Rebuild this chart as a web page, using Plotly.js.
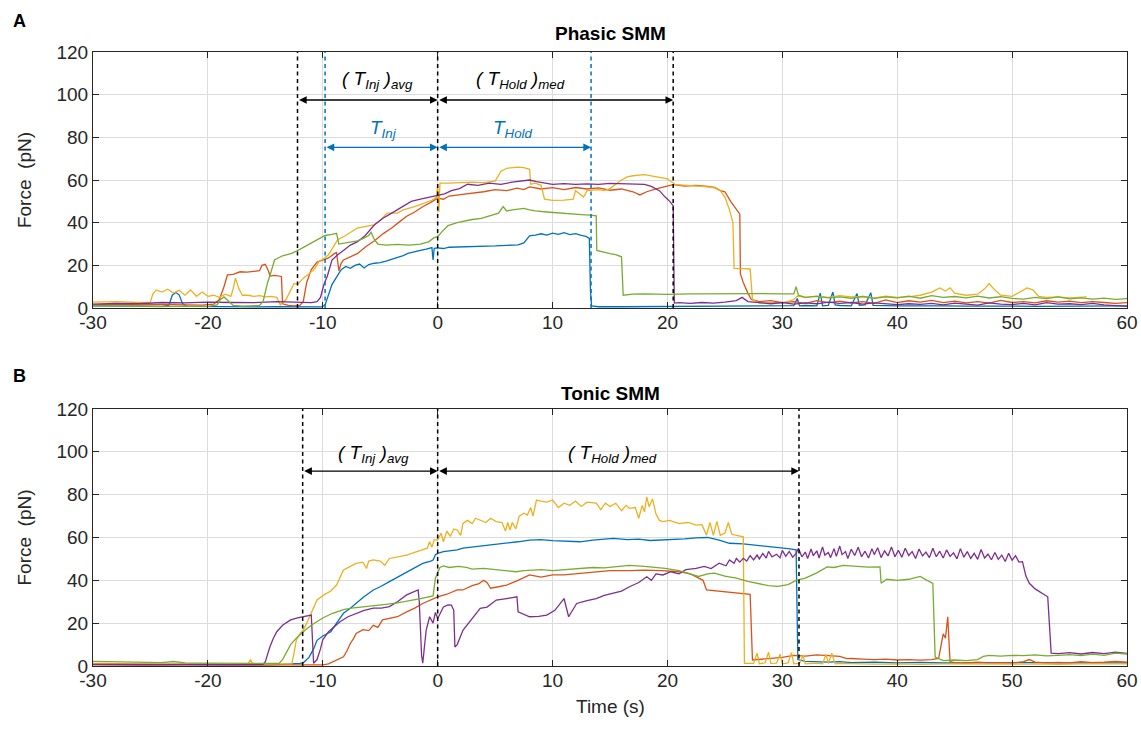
<!DOCTYPE html>
<html>
<head>
<meta charset="utf-8">
<script src="https://cdn.plot.ly/plotly-3.0.1.min.js"></script>
<style>html,body{margin:0;padding:0;background:#fff;}#chart{width:1141px;height:731px;}</style>
</head>
<body>
<div id="chart"></div>
<script>
// ---------- DATA (time s, force pN) ----------
const xTicks = [-30,-20,-10,0,10,20,30,40,50,60];
const yTicks = [0,20,40,60,80,100,120];
const seriesColors = ['#0072BD','#D95319','#EDB120','#7E2F8E','#77AC30'];

// Panel A – Phasic SMM
const phasicBlue = [[-30,1.0],[-28,0.8],[-26,0.9],[-24,0.8],[-23.4,1.2],[-23.1,6.0],[-22.8,7.3],[-22.5,6.2],[-22.2,2.0],[-21.8,0.8],[-20,0.6],[-18,0.5],[-16,0.5],[-14,0.6],[-12,0.5],[-10.1,0.5],[-9.8,1.5],[-9.5,6],[-9.2,11],[-8.8,14.5],[-8.4,18],[-8,19.5],[-7.6,18.6],[-7.2,20],[-6.8,20.6],[-6.4,18.8],[-6,20.4],[-5.5,21],[-5,21.3],[-4.5,22],[-4.1,22.6],[-3.6,23.6],[-3,24.6],[-2.6,25.6],[-2,26.5],[-1.5,27],[-1,27.6],[-0.5,28.3],[-0.4,22.5],[-0.3,28],[0,28.2],[0.5,27.9],[1,28.5],[2,28.6],[3,28.8],[4,29],[5,29.1],[6,29.4],[7,29.6],[7.5,30.5],[8,33.8],[8.5,34.2],[9,34.8],[9.5,34.2],[10,35.1],[10.5,34.5],[11,35.3],[11.5,34.4],[12,34.9],[12.5,34],[12.9,33.6],[13.2,32.6],[13.3,8],[13.4,1],[14,0.6],[16,0.6],[18,0.7],[20,0.6],[22,0.7],[24,0.8],[26,0.8],[28,0.9],[30,1],[31,1.1],[31.3,4.5],[31.5,1],[32,1.2],[33,1],[33.3,7],[33.5,1],[34,1.2],[34.4,7.5],[34.6,1.5],[35,1.2],[36,1],[36.5,6.8],[36.7,1.3],[37.2,1.5],[37.7,7.2],[37.9,1.2],[40,1],[42,1.1],[44,1],[46,0.9],[48,1],[50,0.9],[52,0.8],[54,0.9],[56,1],[58,0.9],[60,1]];
const phasicOrange = [[-30,1.5],[-28,1.8],[-26,1.5],[-24,1.7],[-22,1.5],[-20.5,1.4],[-19.5,1.8],[-19,4],[-18.6,10],[-18.3,15.5],[-17.8,15.8],[-17.2,17],[-16.6,16.8],[-16,17.2],[-15.5,17.5],[-15.3,20],[-15,20.5],[-14.7,17],[-14.6,15],[-14.2,15.3],[-13.8,15],[-13.6,14.8],[-13.5,2],[-13,1.2],[-12.5,1],[-12,1.2],[-11.7,3],[-11.4,12],[-11,18],[-10.5,21.5],[-10,22.5],[-9.5,23.5],[-9,25.5],[-8.8,26],[-8.6,17.5],[-8.4,21],[-8.2,22.5],[-7.6,24],[-7,25.5],[-6.2,29],[-5.5,31.5],[-4.7,35],[-4,37.5],[-3.3,40.5],[-2.7,43],[-2,45],[-1.3,47.5],[-0.6,49.5],[0,51.5],[0.5,51],[1,52.5],[2,53.2],[3,53.8],[4,54.5],[5,55.5],[6,55],[6.9,56.2],[7.5,55.5],[8,56.8],[9,55.8],[10,56.4],[11,55.5],[12,56.5],[13,55.8],[14,56.3],[15,55.2],[16,55.8],[17,54.5],[17.6,53],[18.2,54.5],[19,55.8],[20,57],[20.5,57.8],[21.5,57.2],[22.5,57.5],[23.5,57],[24.1,56.5],[24.6,55],[25,54.5],[25.5,50],[25.9,47],[26.3,44],[26.35,16],[26.6,12],[27,7],[27.3,4],[28,3],[29,3.5],[30,2.5],[31,3],[32,2.2],[33,3.5],[34,2.5],[35,3.2],[36,2.4],[37,3],[38,2.2],[39,3.8],[40,2.5],[41,3.4],[42,2.8],[43,3.6],[44,2.5],[45,3.2],[46,2.4],[47,3],[48,2.3],[49,3.6],[50,2.6],[51,3],[52,2.4],[53,3.4],[54,2.8],[55,3.2],[56,2.5],[57,3],[58,2.6],[59,2.2],[60,2.5]];
const phasicYellow = [[-30,2.8],[-28,3],[-26,2.6],[-25,2.8],[-24.8,6.5],[-24.5,8.5],[-24,7.5],[-23.5,8.8],[-23,7],[-22.5,8.3],[-22,6],[-21.5,8.5],[-21,5.5],[-20.5,7.5],[-20,5.5],[-19.5,6],[-19,5],[-18.5,6.5],[-18,5.5],[-17.8,9],[-17.6,14],[-17.3,9],[-17,6],[-16.5,6],[-16,5.5],[-15.5,5.8],[-15,5.2],[-14.5,5.5],[-14,5],[-13.7,1.5],[-13.2,4],[-12.8,8],[-12.5,11.5],[-12.2,11],[-11.7,14],[-11.2,16],[-10.7,18.5],[-10.3,22],[-10,22.8],[-9.5,25],[-9,29],[-8.7,32],[-8,34],[-7,37.5],[-6,38.5],[-5.5,39],[-5,41],[-4.4,44.5],[-3.5,44.5],[-3,46],[-2,47.5],[-1.3,49],[-0.5,50.5],[-0.1,52],[0,58],[0.1,45],[0.2,58.5],[1,58.5],[2,58.8],[3,59],[4,58.8],[5,59.5],[5.5,64],[6,65.5],[7,66],[7.5,65.8],[8,65],[8.1,58],[8.5,58.5],[9,57.5],[9.3,51],[10,50.5],[11,50.6],[11.8,51],[12,55],[12.7,52],[13,55],[14,55.5],[14.5,55],[15,56],[15.5,58],[16,60],[16.5,61.5],[17,62],[18,62.5],[19,61.5],[20,60.5],[20.7,57.8],[22,57.5],[23,57],[24,56.5],[24.6,55],[25,52],[25.4,46],[25.7,40],[25.8,18.6],[26.5,18.5],[27.2,18.3],[27.4,4],[28,2.3],[29,2.5],[30,2.3],[31,4],[31.3,5.6],[32,5],[33,5.6],[34,5],[35,5.8],[36,5.2],[37,5.5],[38,4.8],[39,5.6],[40,5],[41,5.2],[42,6],[43,7.5],[43.7,9.4],[44.2,8],[44.6,9.5],[45,7],[46,6],[47,6.5],[47.6,9],[48,11.5],[48.4,9],[49,6],[50,5.5],[50.8,8],[51.3,9.4],[51.8,8.5],[52.3,5.5],[53,5],[54,5.2],[55,4.8],[56,5],[56.5,5.2]];
const phasicPurple = [[-30,1.8],[-28,2.2],[-26,2.0],[-25,2.3],[-24,2.6],[-22,2.4],[-20,2.8],[-18,2.6],[-16,2.5],[-14,3],[-13,2.8],[-12,2.6],[-11,2.5],[-10.5,3],[-10.2,5],[-9.9,11],[-9.6,15],[-9.2,22.5],[-8.7,25],[-8.2,27],[-7.6,29.5],[-7,31],[-6.3,34],[-5.5,39],[-4.8,42],[-4,44.5],[-3.2,47],[-2.3,50],[-1.5,51],[-0.7,52],[0,53],[0.6,53.5],[1.2,55],[1.9,56],[2.6,58],[3.5,57.5],[4.5,58.5],[5.5,58],[6.5,59],[7.2,59.5],[8,60],[8.6,59.2],[9.3,58.5],[10,58],[11,58.3],[12,58],[13,58.2],[14,58],[15,58.4],[16,58.2],[17,58],[18,58],[18.6,57],[19.3,55],[19.8,52],[20.2,50],[20.5,48],[20.6,2.3],[21,2.5],[22,2.2],[23,2.6],[24,2.3],[25,2.8],[26,3.5],[26.5,5],[27,3],[28,2.5],[29,2],[30,2.6],[31,1.8],[32,2.4],[33,2],[34,2.8],[35,2.2],[36,2.6],[37,1.8],[38,2.4],[39,2.1],[40,1.6],[41,2],[42,1.7],[43,2.2],[44,1.5],[45,2.3],[46,1.8],[47,1.4],[48,2.4],[49,1.8],[50,1.6],[51,2.2],[52,1.5],[53,2.5],[54,1.8],[55,2],[56,1.6],[57,2.2],[58,1.5],[59,1],[60,0.8]];
const phasicGreen = [[-30,1],[-28,0.8],[-26,0.9],[-24,0.7],[-22,0.9],[-20,0.8],[-19.2,1.5],[-18.9,4],[-18.6,5.2],[-18.2,3],[-17.8,1.2],[-17,0.9],[-16,1],[-15.5,1.2],[-15.2,3],[-14.8,12],[-14.5,17],[-14.2,22.5],[-13.5,24.5],[-12.7,25.6],[-12,27.5],[-11.3,29.5],[-10.5,32],[-9.8,34],[-9.2,34.5],[-8.8,35],[-8.6,30],[-8.1,30.5],[-7.6,31],[-7,31.5],[-6.5,32.5],[-6,34],[-5.8,35.5],[-5.5,32],[-5.2,30],[-4.5,29.5],[-3.5,29.8],[-2.5,29.5],[-1.5,30],[-0.8,31],[-0.3,33],[0,33.5],[0.5,36.5],[0.9,38.6],[1.7,40],[2.4,41],[3,41.5],[3.8,42],[4.5,43],[5.3,44.5],[5.7,47.5],[6,45.5],[6.5,46],[7,46.3],[7.5,46.7],[8,46],[8.5,45.5],[9.5,45],[10.5,44.5],[11.5,44.2],[12.5,43.8],[13.3,43.5],[13.8,43.2],[13.85,27],[14.5,26],[15,25.5],[15.5,25],[16,24],[16.15,6],[17,6.5],[18,6.6],[20,6.4],[22,6.6],[24,6.7],[26,6.6],[28,6.8],[30,6.6],[31,6.7],[31.2,10],[31.4,6],[32,5],[33,5.5],[34,4.8],[35,5.2],[36,4.6],[37,5.4],[38,4.5],[39,5.2],[40,4.8],[41,5.6],[42,4.6],[43,5.8],[44,5],[45,5.4],[46,4.8],[47,5.6],[48,4.7],[49,5.3],[50,4.5],[51,4.2],[52,5],[53,4.4],[54,5.2],[55,4.3],[56,4.8],[57,4.2],[58,4.6],[59,4.1],[60,4.4]];

// Panel B – Tonic SMM
const tonicBlue = [[-30,0.8],[-28,0.6],[-26,0.7],[-24,0.5],[-22,0.6],[-20,0.5],[-18,0.6],[-16,0.5],[-14,0.6],[-13,0.8],[-12.6,1],[-12,1.2],[-11.7,1.5],[-11.2,4],[-10.8,8],[-10.5,12],[-10,14],[-9.3,16],[-8.8,20],[-8.2,24.6],[-7.6,27],[-7.1,29.3],[-6.5,32],[-5.6,35.5],[-5,37],[-4.2,39.4],[-3.5,41.5],[-2.7,44],[-2,46],[-1.3,47.9],[-0.6,49],[-0.4,49.5],[-0.2,52],[0,52.6],[0.5,53.4],[1,53.8],[1.7,54.2],[2.2,55],[3,55.5],[4,55.8],[5.1,56.5],[6,57.2],[7,58],[8,58.8],[9,59],[10,58.5],[11,58.3],[12.4,58],[13.5,58.8],[14.5,59.3],[15.3,59.6],[16.5,59],[17.5,59.2],[18.5,58.6],[19.6,58.8],[20.5,59],[21.5,59.4],[22.5,59.8],[23.5,60],[24.5,58.8],[25.4,57.3],[26.6,57],[27.5,56.5],[28.5,56],[29.5,55.7],[30.5,54.8],[31.2,54.2],[31.35,3],[32,2.2],[33,2],[34,1.8],[35,2],[36,1.6],[38,1.8],[40,1.5],[42,1.7],[44,1.4],[46,1.5],[48,1.6],[50,1.4],[52,1.6],[54,1.5],[56,1.4],[58,1.6],[60,1.5]];
const tonicOrange = [[-30,0.5],[-28,0.4],[-26,0.5],[-24,0.4],[-22,0.5],[-20,0.4],[-18,0.5],[-16,0.4],[-14,0.5],[-12,0.4],[-10,0.5],[-9.5,1],[-9.1,2],[-8.6,3],[-8.2,4.3],[-7.9,7],[-7.6,10.5],[-7.3,13],[-7.1,15.2],[-6.5,17],[-6,16.5],[-5.6,19],[-5.2,18],[-4.8,21.5],[-4.2,22.2],[-3.5,23],[-2.7,25.3],[-2,27],[-1.3,29.2],[-0.7,30.8],[0,32.3],[0.8,33.5],[1.7,35.5],[2.2,35.5],[3,37.5],[3.6,38.5],[4,40],[4.3,39],[4.6,36.3],[5.3,37],[6,37.8],[7,40],[8,42.5],[9,41.5],[10,42.5],[11,42.5],[12,43],[13,43.5],[13.8,44],[15,44.5],[16.7,44.5],[18,44.8],[19.5,44.5],[21.1,44],[22,43],[23.1,40],[23.4,35.5],[24.5,35],[25.5,34.5],[26.6,33.9],[27.2,33.5],[27.4,2.8],[28,3],[29,3.5],[30,4],[31,5],[32,4.6],[33,5.2],[34,4.8],[35,4.5],[35.6,3.4],[36,3.5],[37,3.2],[38,3],[39,3.2],[40,2.8],[41,3],[42,2.7],[43,3],[43.6,3.5],[43.8,9],[44,15],[44.2,13],[44.4,23],[44.5,12],[44.6,2],[45,1.6],[46,1.4],[47,1.8],[48,1.5],[49,1.6],[50,1.4],[51,2],[51.5,3],[52,1.8],[53,1.5],[54,1.7],[55,1.5],[56,2],[57,1.6],[58,1.8],[59,2.2],[60,1.8]];
const tonicYellow = [[-30,1.2],[-28,1.0],[-26,1.1],[-24,0.9],[-22,1],[-20,0.8],[-18,0.9],[-16.5,1],[-16.3,3],[-16.1,1],[-14,0.8],[-13,0.8],[-12.7,1],[-12.5,6],[-12.3,12.2],[-12,15],[-11.7,16.8],[-11.4,20],[-11.1,23.8],[-10.8,27],[-10.5,30.8],[-9.9,33.2],[-9.3,35],[-8.8,37.8],[-8.5,41],[-8.2,44.8],[-7.6,46.5],[-7.1,47.9],[-6.5,48.5],[-6.2,45.5],[-6,49],[-5.6,49.5],[-5,49],[-4.6,47],[-4.2,50.2],[-3.5,51],[-2.7,51.8],[-2,53],[-1.3,54.2],[-0.9,55],[-0.7,58],[-0.5,55.5],[-0.3,59],[0,58.8],[0.3,62],[0.5,58],[0.8,63],[1.1,60.5],[1.4,64],[1.7,63.5],[2,61],[2.2,66.6],[2.6,68],[3,66.5],[3.3,69],[3.7,68.2],[4.2,67],[4.6,69],[5.1,67.4],[5.6,67],[5.9,63],[6.1,67],[6.3,63.5],[6.5,67],[6.8,64],[7.1,70],[7.5,71.3],[7.8,70.5],[8.1,74],[8.3,70],[8.6,77.5],[9,77],[9.5,76.5],[10,77.5],[10.5,74],[11,76],[11.5,75],[12,77],[12.5,74.5],[13,76.5],[13.8,76],[14.2,73],[14.6,76],[15,74.5],[15.5,76],[16,72.5],[16.4,75],[16.7,73.6],[17.2,74],[17.5,69],[17.8,75],[18,72],[18.2,79],[18.4,74.4],[18.7,78],[19,71],[19.3,68],[19.6,67.4],[20.2,68],[21,66.5],[21.8,67],[22.5,65.8],[23,66],[23.4,61.1],[23.7,67],[24,61],[24.3,67.5],[24.6,61],[25,62],[25.3,67],[25.6,61.5],[26,61],[26.6,60.3],[26.7,1.2],[27.2,1],[27.5,1.2],[27.8,6],[28,1],[28.5,1.5],[28.8,6.5],[29,1.2],[29.5,1.3],[29.8,5.5],[30,1],[30.5,1.4],[30.8,6.2],[31,1],[31.5,1.2],[31.8,5],[32,1],[33,1.3],[33.5,1],[33.8,5.5],[34,1.2],[34.3,6],[34.6,1],[35,1.2],[36,1],[37,1.1],[38,0.9],[40,1],[42,0.8],[44,1],[46,0.9],[48,1],[50,0.9],[52,1],[54,0.8],[56,1],[58,0.9],[60,1]];
const tonicPurple = [[-30,0.8],[-28,0.6],[-26,0.7],[-24,0.8],[-22,0.6],[-20,0.7],[-18,0.6],[-16,0.7],[-15.2,0.8],[-15,2],[-14.6,9],[-14.3,13],[-14,16],[-13.5,19],[-12.8,21.5],[-12.2,22.5],[-11.7,23],[-11.2,23.5],[-11,23.8],[-10.8,1.3],[-10.5,3],[-10.2,8],[-10,12.2],[-9.5,16],[-9,18.5],[-8.5,20.7],[-7.8,23],[-7.1,24.6],[-6.4,26],[-5.6,27],[-4.9,27],[-4.2,27.7],[-3.5,30],[-2.7,33.2],[-2.2,34.5],[-1.7,35.5],[-1.6,30],[-1.4,5],[-1.3,1.3],[-1.1,10],[-1,16.8],[-0.7,23],[-0.4,20],[-0.2,25],[0,22.2],[0.5,27.6],[0.9,28.5],[1.2,28.4],[1.4,26],[1.5,8.9],[1.7,10],[2.2,16.7],[3,22],[3.7,26.9],[4.3,27.5],[5.1,30.8],[6,31.5],[6.9,32.3],[7,25.3],[7.5,24],[8,23],[8.8,23.2],[9.5,23.8],[10.2,26],[10.8,30],[11,31.5],[11.4,23],[12.1,29.2],[13,30.5],[13.8,31.5],[14.5,33],[15.3,33.9],[16,35],[16.7,37],[17.5,39],[18.2,41.7],[18.6,40],[19,43],[19.6,42.5],[20.3,44],[21,43],[21.6,45],[22.5,45.6],[23.2,46.5],[23.8,45.5],[24.5,48],[25.1,46.8],[25.4,49.5],[25.8,48],[26,50.2],[26.3,48.5],[26.6,50.3],[26.9,49],[27.2,51.5],[27.5,49.5],[27.8,51.8],[28.0,50],[28.3,52.6],[28.6,50.4],[28.8,53.5],[29.1,51],[29.5,52.2],[29.8,50.5],[30,54],[30.3,51.2],[30.6,53.5],[30.9,50.8],[31.2,52.6],[31.4,55],[31.7,51],[32,53.2],[32.2,50.2],[32.5,54.6],[32.7,51.5],[33,53.8],[33.2,50.4],[33.5,55.6],[33.7,51.8],[34,53],[34.2,50.6],[34.5,54.8],[34.7,51.2],[35,56],[35.2,52],[35.5,53.4],[35.7,50.2],[36,54.5],[36.3,51.6],[36.6,55.4],[36.9,51],[37.2,53.6],[37.5,50.4],[37.8,54.8],[38,52],[38.3,55.2],[38.6,50.6],[38.9,53.8],[39.2,51.4],[39.5,55.6],[39.8,51],[40.1,54],[40.4,50.8],[40.7,55],[41,51.6],[41.3,53.4],[41.6,50.2],[41.9,54.6],[42.2,51.4],[42.5,53.2],[42.8,50.6],[43.1,55],[43.4,51],[43.7,53.6],[44,50.4],[44.3,54.2],[44.6,51.2],[44.9,52.8],[45.2,50],[45.5,54.8],[45.8,50.8],[46.1,53.4],[46.4,50.2],[46.7,52.6],[47,49.8],[47.3,54.4],[47.6,50.4],[47.9,52.2],[48.2,49.6],[48.5,53],[48.8,49.8],[49.1,51.8],[49.4,48.8],[49.7,52.6],[50,49.4],[50.3,51.5],[50.6,48.5],[50.9,48.7],[51.2,42],[51.5,38.6],[52,36],[52.4,34.7],[52.8,33.5],[53.1,32.3],[53.4,6],[54,5.8],[55,6.2],[56,5.6],[57,6.3],[58,5.8],[59,6.5],[60,5.9]];
const tonicGreen = [[-30,2.2],[-28,2],[-26,1.8],[-24,1.6],[-23,2.1],[-22,1.5],[-20,1.3],[-18,1.2],[-16,1.1],[-14.5,1],[-13.8,1.2],[-13.5,3],[-13.2,6],[-12.8,10],[-12.3,13],[-11.7,16],[-11,19],[-10,22.4],[-9.2,24.5],[-8.2,26.3],[-7.5,27],[-6.5,27.5],[-5.5,28],[-4.5,28.8],[-3.5,29.5],[-2.6,30.3],[-1.5,31.5],[-0.4,32.7],[-0.2,41],[0.2,46],[0.5,46.7],[1,46],[1.8,46.5],[2.5,46],[3,45.2],[4,45.6],[5,45],[6,44.5],[6.8,44],[7.5,44.5],[8.1,44.8],[9,45],[10,44.5],[11,45],[12.4,45.6],[13.5,46],[14.5,45.8],[15.5,46.5],[16.7,47],[18,46.5],[19,46],[19.8,45.6],[21,44.5],[22,42.8],[22.7,41.8],[23.5,43],[24.1,43.4],[25,42],[26,41],[27,39.5],[28,38.5],[28.8,37.5],[29.6,37.2],[30.5,38],[31.2,40],[32,41],[33,43.5],[33.9,46.3],[34.5,46],[35.3,47],[36.5,46.5],[37.5,46.2],[38.5,46.3],[38.6,38.6],[39.1,40.5],[40,40],[41,40.5],[42,41.8],[42.6,40],[43.1,38.6],[43.3,4.2],[44,2.5],[45,2.8],[46,2.5],[47,3],[47.5,4.5],[48,5],[49,4.6],[50,5],[51,4.8],[52,5.2],[53,4.7],[54,5],[55,5.3],[56,4.8],[57,5.5],[58,5],[59,6],[60,5.6]];

// Interval markers (s)
const phasicAvgInj = -12.2, phasicMedHold = 20.5, phasicInj = -9.8, phasicHold = 13.35;
const tonicAvgInj = -11.75, tonicMedHold = 31.45;

// ---------- FIGURE ----------
const FONT = 'Liberation Sans, Arial, Helvetica, sans-serif';
const INK = '#262626';
function mk(pairs, color, xa, ya){
  return {x: pairs.map(p=>p[0]), y: pairs.map(p=>p[1]), xaxis: xa, yaxis: ya,
    mode:'lines', line:{color:color, width:1.3}, hoverinfo:'skip', showlegend:false};
}
const phasic = [phasicBlue, phasicOrange, phasicYellow, phasicPurple, phasicGreen];
const tonic = [tonicBlue, tonicOrange, tonicYellow, tonicPurple, tonicGreen];
const data = [];
phasic.forEach((s,i)=>data.push(mk(s, seriesColors[i], 'x', 'y')));
tonic.forEach((s,i)=>data.push(mk(s, seriesColors[i], 'x2', 'y2')));

function vline(x, xa, color){
  return {type:'line', xref:xa, yref:(xa==='x'?'y':'y2')+' domain', x0:x, x1:x, y0:0, y1:1,
    line:{color:color, width:1.5, dash:'4px,3.5px'}, layer:'above'};
}
const BLUE = '#0072BD';
const shapes = [
  vline(phasicAvgInj,'x','#000'), vline(0,'x','#000'), vline(phasicMedHold,'x','#000'),
  vline(phasicInj,'x',BLUE), vline(phasicHold,'x',BLUE),
  vline(tonicAvgInj,'x2','#000'), vline(0,'x2','#000'), vline(tonicMedHold,'x2','#000')
];
function arrow(x0, x1, y, xa, color){
  const ya = xa==='x' ? 'y' : 'y2';
  return {xref:xa, yref:ya, axref:xa, ayref:ya, x:x1, y:y, ax:x0, ay:y, text:'',
    showarrow:true, arrowhead:2, startarrowhead:2, arrowside:'end+start', arrowsize:1.1, startarrowsize:1.1,
    arrowwidth:1.4, arrowcolor:color, standoff:0, startstandoff:0};
}
function label(txt, x, y, xa, color){
  const ya = xa==='x' ? 'y' : 'y2';
  return {xref:xa, yref:ya, x:x, y:y, text:txt, showarrow:false,
    font:{family:FONT, size:19, color:color}, xanchor:'center', yanchor:'middle'};
}
function paperText(txt, x, y, size, angle, color){
  return {xref:'paper', yref:'paper', x:x, y:y, text:txt, showarrow:false, textangle:angle||0,
    font:{family:FONT, size:size, color:color||'#000'}, xanchor:'center', yanchor:'middle'};
}
const avgTxt = '<i>( T<sub>Inj</sub> )<sub>avg</sub></i>';
const medTxt = '<i>( T<sub>Hold</sub> )<sub>med</sub></i>';
const yTitle = 'Force\u00a0 (pN)';
const annotations = [
  arrow(phasicAvgInj, 0, 97.5, 'x', '#000'), arrow(0, phasicMedHold, 97.5, 'x', '#000'),
  arrow(phasicInj, 0, 75.3, 'x', BLUE), arrow(0, phasicHold, 75.3, 'x', BLUE),
  label(avgTxt, -5.2, 107, 'x', '#000'), label(medTxt, 7.2, 107, 'x', '#000'),
  label('<i>T<sub>Inj</sub></i>', -4.7, 84, 'x', BLUE), label('<i>T<sub>Hold</sub></i>', 6.6, 84, 'x', BLUE),
  arrow(tonicAvgInj, 0, 91, 'x2', '#000'), arrow(0, tonicMedHold, 91, 'x2', '#000'),
  label(avgTxt, -5.6, 99, 'x2', '#000'), label(medTxt, 15.2, 99, 'x2', '#000'),
  paperText('<b>Phasic SMM</b>', 0.5, 1.030, 19),
  paperText('<b>Tonic SMM</b>', 0.5, 0.4446, 19),
  paperText('<b>A</b>', -0.0706, 1.0505, 18),
  paperText('<b>B</b>', -0.0715, 0.4715, 18),
  paperText(yTitle, -0.0667, 0.7915, 19, -90, INK),
  paperText(yTitle, -0.0667, 0.2093, 19, -90, INK),
  paperText('Time (s)', 0.5, -0.066, 19, 0, INK)
];

const axCommon = {
  showline:true, linecolor:INK, linewidth:1, mirror:'ticks', ticks:'inside', ticklen:6,
  tickcolor:INK, tickwidth:1, showgrid:true, gridcolor:'#dcdcdc', gridwidth:1, zeroline:false,
  tickfont:{family:FONT, size:19, color:INK}, fixedrange:true
};
const xa = Object.assign({}, axCommon, {range:[-30,60], tickmode:'array', tickvals:xTicks,
  ticktext:xTicks.map(String), ticklabelstandoff:-3});
const yaBase = Object.assign({}, axCommon, {range:[0,120], tickmode:'array', tickvals:yTicks, ticktext:yTicks.map(String)});
const layout = {
  width:1141, height:731, margin:{l:93, r:14, t:52, b:65, autoexpand:false},
  paper_bgcolor:'#fff', plot_bgcolor:'#fff', showlegend:false,
  xaxis: Object.assign({}, xa, {domain:[0,1], anchor:'y'}),
  yaxis: Object.assign({}, yaBase, {domain:[0.583,1], anchor:'x'}),
  xaxis2: Object.assign({}, xa, {domain:[0,1], anchor:'y2'}),
  yaxis2: Object.assign({}, yaBase, {domain:[0,0.4186], anchor:'x2'}),
  shapes:shapes, annotations:annotations
};
Plotly.newPlot('chart', data, layout, {staticPlot:true, displayModeBar:false});
</script>
</body>
</html>
